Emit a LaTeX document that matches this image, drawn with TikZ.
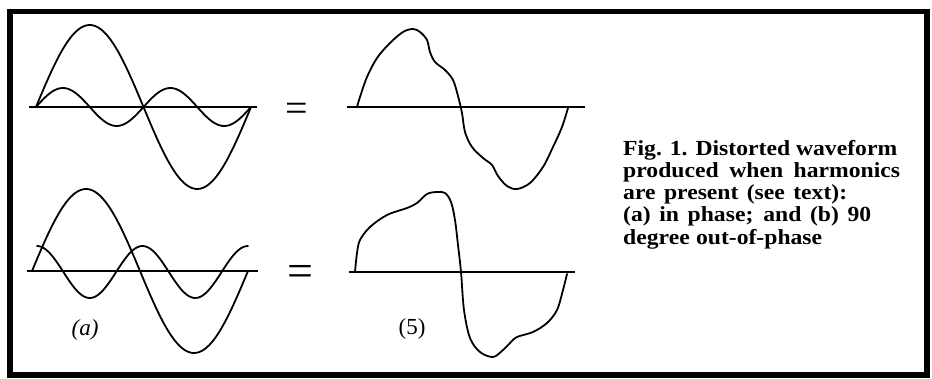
\documentclass[tikz,border=0pt]{standalone}
\usepackage{fontspec}
\setmainfont{Liberation Serif}
\newfontfamily\capfont[FakeStretch=1.1]{Liberation Serif}

\begin{document}
\begin{tikzpicture}[x=1pt,y=-1pt,
  wave/.style={line width=1.8pt, line join=round, line cap=round},
  axisline/.style={line width=1.5pt},
  tag/.style={inner sep=0pt, font=\fontsize{23}{23}\selectfont},
  equal/.style={inner sep=0pt}]
  \useasboundingbox (0,0) rectangle (932,379);

  % Frame
  \draw[line width=5.5pt] (10,11.5) rectangle (927,375);

  % (a) fundamental and second harmonic, in phase
  \draw[axisline] (29,107) -- (257,107);
  \draw[wave, domain=36:251, samples=90] plot (\x, {107-82*sin(360/215*(\x-36))});
  \draw[wave, domain=36:251, samples=90] plot (\x, {107-19*sin(720/215*(\x-36))});

  % (b) fundamental and second harmonic, 90 degrees out of phase
  \draw[axisline] (27,271) -- (258,271);
  \draw[wave, domain=32:248, samples=90] plot (\x, {271-82*sin(360/216*(\x-32))});
  \draw[wave, domain=37:248, samples=90] plot (\x, {272-26*cos(720/211*(\x-37))});

  % Equals signs
  \node[equal, font=\fontsize{40}{40}\selectfont] (eqa) at (296.5,112) {=};
  \node[equal, font=\fontsize{46}{46}\selectfont] (eqb) at (300.5,275.5) {=};

  % Resulting waveform (a)
  \draw[axisline] (347,107) -- (585,107);
  \draw[wave] plot[smooth, tension=0.55] coordinates {
    (357,107) (360,97) (367,77) (377,58) (390,43) (403,32) (413,29)
    (420,32) (427,40) (430,52) (435,62) (445,70) (453,80) (458,96)
    (462,113) (465,132) (472,147) (483,158) (492,165) (498,176)
    (507,186) (517,189) (530,183) (543,167) (553,147) (562,127) (568,108)};

  % Resulting waveform (b)
  \draw[axisline] (349,272) -- (575,272);
  \draw[wave] plot[smooth, tension=0.55] coordinates {
    (355,272) (357,253) (360,240) (370,227) (387,215) (407,208) (417,203)
    (427,194) (437,192) (445,193) (451,202) (455,220) (458,245)
    (461,272) (464,310) (470,338) (480,352) (493,357) (503,350)
    (510,343) (517,337) (533,332) (547,323) (557,310) (563,290) (567,274)};

  % Labels
  \node[tag] (laba) at (85,330) {\textit{(a)}};
  \node[tag] (labb) at (412,329) {(5)};

  % Caption
  \node[anchor=north west, inner sep=0pt, align=left,
        font=\capfont\fontsize{21.5}{22.1}\selectfont\bfseries] (caption) at (623,140.3)
    {\makebox[274pt][s]{Fig. 1. Distorted waveform}\\
     \makebox[277pt][s]{produced when harmonics}\\
     \makebox[224pt][s]{are present (see text):}\\
     \makebox[248pt][s]{(a) in phase; and (b) 90}\\
     \makebox[199pt][s]{degree out-of-phase}};
\end{tikzpicture}
\end{document}
